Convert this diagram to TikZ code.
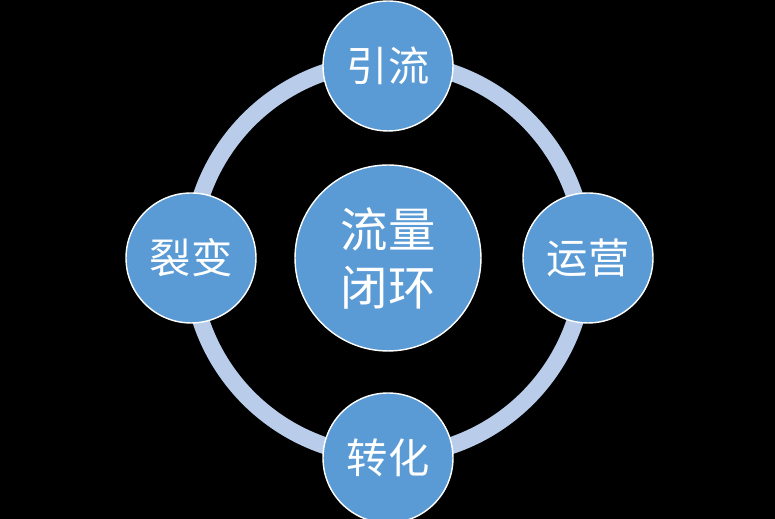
\documentclass[tikz,border=0pt]{standalone}
\usepackage{fontspec}
\setmainfont{Noto Sans CJK SC}
\usepackage{xcolor}
\usepackage{tikz}
\usetikzlibrary{positioning}

\definecolor{ringblue}{HTML}{B9CCEA}
\definecolor{stepblue}{HTML}{5B9BD5}

\begin{document}
\begin{tikzpicture}[
    x=0.02cm, y=0.02cm,
    stage/.style={circle, draw=white, line width=0.8pt, fill=stepblue, text=white, minimum size=2.6cm, inner sep=0pt, font=\fontsize{23.5}{28}\selectfont},
    hub/.style={circle, draw=white, line width=0.8pt, fill=stepblue, text=white, minimum size=3.72cm, inner sep=0pt, align=center, font=\fontsize{27}{33}\selectfont},
    ring/.style={draw=ringblue, line width=0.34cm}
]
    % Background
    \fill[black] (0,0) rectangle (775,519);
    \useasboundingbox (0,0) rectangle (775,519);

    % Loop
    \coordinate (mid) at (388,260);
    \draw[ring] (mid) circle (197);

    % Stages
    \node[stage] (yinliu) at (388,453) {引流};
    \node[stage] (yunying) at (588,261) {运营};
    \node[stage] (zhuanhua) at (388,61) {转化};
    \node[stage] (liebian) at (191,261) {裂变};

    % Hub
    \node[hub] (bihuan) at (388,261) {流量\\闭环};
\end{tikzpicture}
\end{document}
